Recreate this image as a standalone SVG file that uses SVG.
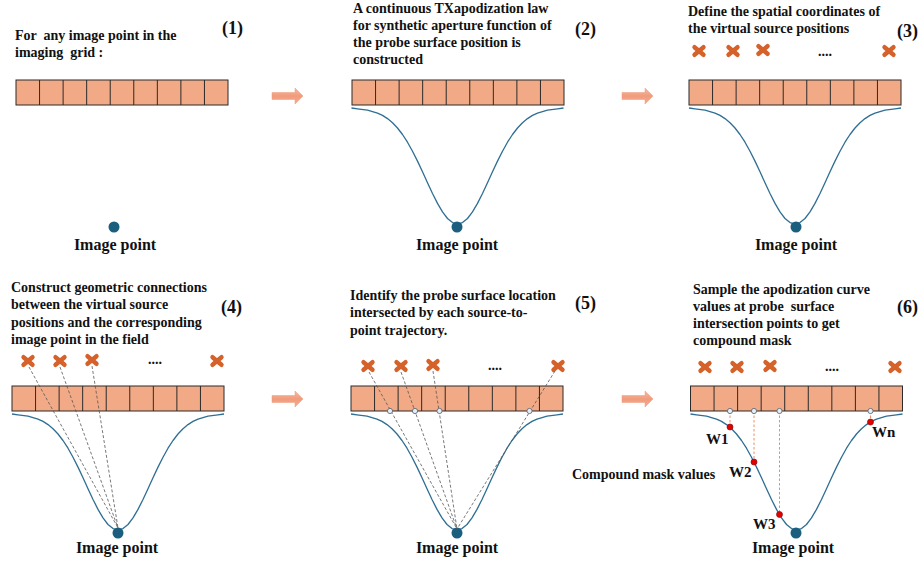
<svg xmlns="http://www.w3.org/2000/svg" xmlns:xlink="http://www.w3.org/1999/xlink" width="924" height="563" viewBox="0 0 924 563">
<style>
  text { font-family: "Liberation Serif", "Times New Roman", serif; font-weight: bold; fill: #111; white-space: pre; }
  .desc { font-size: 14px; }
  .num { font-size: 18px; }
  .lbl { font-size: 16px; }
  .w { font-size: 15px; }
  .dots { font-size: 14px; }
  .cell { fill: #F2AA86; stroke: #2a2a2a; stroke-width: 1; }
  .div { stroke: #2a2a2a; stroke-width: 1; }
  .curve { fill: none; stroke: #2F6E93; stroke-width: 1.3; stroke-linejoin: round; }
  .ipt { fill: #1B5E7E; }
  .xm { stroke: #D5622A; stroke-width: 4.4; stroke-linecap: round; }
  .ray { stroke: #555; stroke-width: 0.8; stroke-dasharray: 3 2; fill: none; }
  .drop { stroke: #F08050; stroke-width: 0.9; stroke-dasharray: 2.5 2; fill: none; }
  .hit { fill: #E6EEF5; stroke: #5C6B78; stroke-width: 0.9; }
  .wdot { fill: #E50000; stroke: #8A1010; stroke-width: 0.7; }
  .arrow { fill: url(#ag); stroke: #EE9A7C; stroke-width: 0.5; }
</style>
<defs>
  <linearGradient id="ag" x1="0" y1="0" x2="0" y2="1">
    <stop offset="0" stop-color="#F7BBA3"/>
    <stop offset="0.5" stop-color="#F19B7C"/>
    <stop offset="1" stop-color="#F4AE94"/>
  </linearGradient>
  <g id="array">
    <rect class="cell" x="0" y="0" width="212" height="25"/>
    <path class="div" d="M23.56,0V25M47.11,0V25M70.67,0V25M94.22,0V25M117.78,0V25M141.33,0V25M164.89,0V25M188.44,0V25"/>
  </g>
  <path id="curve" class="curve" d="M-106,0 L-100,0.9 L-90,2.2 L-80,5.1 L-75,7.4 L-70,10.6 L-65,14.7 L-60,20 L-55,26.5 L-50,34.2 L-45,43.2 L-40,53.1 L-35,63.8 L-30,74.8 L-25,85.5 L-20,95.4 L-15,103.9 L-10,110.5 L-5,114.6 L0,116 L5,114.6 L10,110.5 L15,103.9 L20,95.4 L25,85.5 L30,74.8 L35,63.8 L40,53.1 L45,43.2 L50,34.2 L55,26.5 L60,20 L65,14.7 L70,10.6 L75,7.4 L80,5.1 L90,2.2 L100,0.9 L106,0"/>
  <g id="xmark">
    <line class="xm" x1="-4.5" y1="-3.8" x2="4.5" y2="3.8"/>
    <line class="xm" x1="-4.5" y1="3.8" x2="4.5" y2="-3.8"/>
  </g>
  <path id="arr" class="arrow" d="M0,-3.5 H23 V-8 L31,0 L23,8 V3.5 H0 Z"/>
</defs>

<!-- Panel 1 -->
<g id="panel1">
  <text class="desc" x="15" y="40">For  any image point in the</text>
  <text class="desc" x="15" y="57">imaging  grid :</text>
  <text class="num" x="222" y="34">(1)</text>
  <use href="#array" x="16" y="80"/>
  <circle class="ipt" cx="114" cy="227" r="5.5"/>
  <text class="lbl" x="115" y="250" text-anchor="middle">Image point</text>
</g>

<!-- Panel 2 -->
<g id="panel2">
  <text class="desc" x="353" y="13">A continuous TXapodization law</text>
  <text class="desc" x="353" y="30">for synthetic aperture function of</text>
  <text class="desc" x="353" y="47">the probe surface position is</text>
  <text class="desc" x="353" y="64">constructed</text>
  <text class="num" x="575" y="35">(2)</text>
  <use href="#array" x="352" y="80"/>
  <use href="#curve" transform="translate(457.5,108)"/>
  <circle class="ipt" cx="457" cy="227" r="5.5"/>
  <text class="lbl" x="457" y="250" text-anchor="middle">Image point</text>
</g>

<!-- Panel 3 -->
<g id="panel3">
  <text class="desc" x="688" y="16">Define the spatial coordinates of</text>
  <text class="desc" x="688" y="33">the virtual source positions</text>
  <text class="num" x="897" y="37">(3)</text>
  <use href="#xmark" x="699" y="51"/>
  <use href="#xmark" x="733" y="51"/>
  <use href="#xmark" x="763" y="50"/>
  <text class="dots" x="825" y="56" text-anchor="middle">....</text>
  <use href="#xmark" x="889" y="51"/>
  <use href="#array" x="689" y="80"/>
  <use href="#curve" transform="translate(795,108)"/>
  <circle class="ipt" cx="796" cy="227" r="5.5"/>
  <text class="lbl" x="796" y="250" text-anchor="middle">Image point</text>
</g>

<!-- Panel 4 -->
<g id="panel4">
  <text class="desc" x="11" y="292">Construct geometric connections</text>
  <text class="desc" x="11" y="309">between the virtual source</text>
  <text class="desc" x="11" y="327">positions and the corresponding</text>
  <text class="desc" x="11" y="344">image point in the field</text>
  <text class="num" x="221" y="313">(4)</text>
  <use href="#xmark" x="28" y="361"/>
  <use href="#xmark" x="60" y="361"/>
  <use href="#xmark" x="92" y="360"/>
  <text class="dots" x="155" y="364" text-anchor="middle">....</text>
  <use href="#xmark" x="217" y="361"/>
  <use href="#array" x="12" y="386"/>
  <use href="#curve" transform="translate(118,414)"/>
  <circle class="ipt" cx="118" cy="533" r="5.5"/>
  <text class="lbl" x="117" y="553" text-anchor="middle">Image point</text>
</g>

<!-- Panel 5 -->
<g id="panel5">
  <text class="desc" x="350" y="300">Identify the probe surface location</text>
  <text class="desc" x="350" y="317">intersected by each source-to-</text>
  <text class="desc" x="350" y="335">point trajectory.</text>
  <text class="num" x="575" y="309">(5)</text>
  <use href="#xmark" x="368" y="366"/>
  <use href="#xmark" x="401" y="366"/>
  <use href="#xmark" x="433" y="365"/>
  <text class="dots" x="495" y="370" text-anchor="middle">....</text>
  <use href="#xmark" x="558" y="366"/>
  <use href="#array" x="351" y="386"/>
  <use href="#curve" transform="translate(457,414)"/>
  <circle class="ipt" cx="457" cy="533" r="5.5"/>
  <text class="lbl" x="457" y="553" text-anchor="middle">Image point</text>
</g>

<!-- Panel 6 -->
<g id="panel6">
  <text class="desc" x="693" y="294">Sample the apodization curve</text>
  <text class="desc" x="693" y="311">values at probe  surface</text>
  <text class="desc" x="693" y="328">intersection points to get</text>
  <text class="desc" x="693" y="345">compound mask</text>
  <text class="num" x="897" y="313">(6)</text>
  <use href="#xmark" x="705" y="367"/>
  <use href="#xmark" x="737" y="367"/>
  <use href="#xmark" x="770" y="366"/>
  <text class="dots" x="832" y="371" text-anchor="middle">....</text>
  <use href="#xmark" x="895" y="367"/>
  <use href="#array" x="690.5" y="386"/>
  <use href="#curve" transform="translate(796.5,414)"/>
  <circle class="ipt" cx="796" cy="533" r="5.5"/>
  <text class="lbl" x="793" y="553" text-anchor="middle">Image point</text>
  <text class="desc" x="572" y="479">Compound mask values</text>
  <text class="w" x="706" y="444">W1</text>
  <text class="w" x="729" y="477">W2</text>
  <text class="w" x="753" y="529">W3</text>
  <text class="w" x="872" y="437">Wn</text>
</g>

<!-- Connectors -->
<g id="connectors">
  <use href="#arr" x="272" y="96"/>
  <use href="#arr" x="622" y="96"/>
  <use href="#arr" x="272" y="399"/>
  <use href="#arr" x="622" y="399"/>
  <!-- panel 4 rays -->
  <line class="ray" x1="29" y1="367" x2="118" y2="528"/>
  <line class="ray" x1="60" y1="367" x2="118" y2="528"/>
  <line class="ray" x1="92" y1="366" x2="118" y2="528"/>
  <!-- panel 5 rays -->
  <line class="ray" x1="369" y1="372" x2="457" y2="529"/>
  <line class="ray" x1="401" y1="372" x2="457" y2="529"/>
  <line class="ray" x1="433" y1="371" x2="457" y2="529"/>
  <line class="ray" x1="555" y1="371" x2="457" y2="529"/>
  <circle class="hit" cx="390" cy="411" r="2.6"/>
  <circle class="hit" cx="415" cy="411" r="2.6"/>
  <circle class="hit" cx="439.5" cy="411" r="2.6"/>
  <circle class="hit" cx="529.5" cy="411" r="2.6"/>
  <!-- panel 6 drops -->
  <line class="drop" x1="730" y1="411" x2="730" y2="427"/>
  <line class="drop" x1="754" y1="411" x2="754" y2="462"/>
  <line class="drop" x1="779.5" y1="411" x2="779.5" y2="514"/>
  <line class="drop" x1="870.5" y1="411" x2="870.5" y2="422"/>
  <circle class="hit" cx="730" cy="411" r="2.6"/>
  <circle class="hit" cx="754" cy="411" r="2.6"/>
  <circle class="hit" cx="779.5" cy="411" r="2.6"/>
  <circle class="hit" cx="870.5" cy="411" r="2.6"/>
  <circle class="wdot" cx="730" cy="427" r="3"/>
  <circle class="wdot" cx="754" cy="462" r="3"/>
  <circle class="wdot" cx="779.5" cy="514.5" r="3"/>
  <circle class="wdot" cx="870.5" cy="422" r="3"/>
</g>
</svg>
